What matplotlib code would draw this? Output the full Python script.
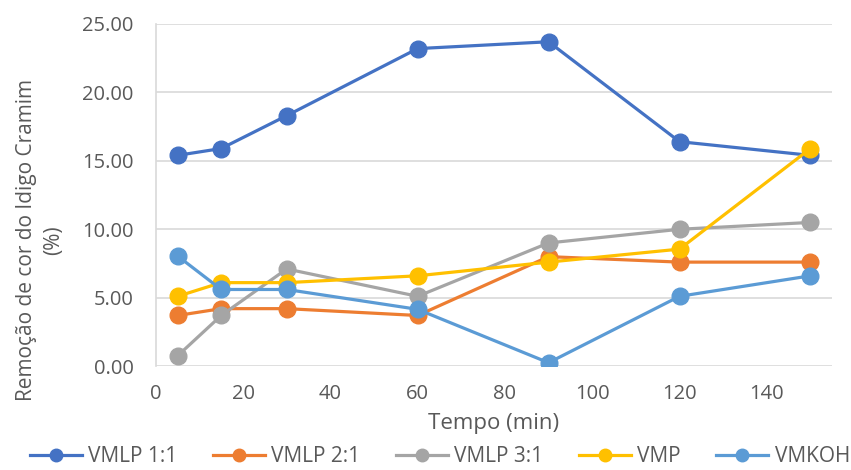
import matplotlib
matplotlib.use("Agg")
import matplotlib.pyplot as plt

# Tempo de contato (min) e remoção de cor (%) por material
tempo = [5, 15, 30, 60, 90, 120, 150]
vmlp_11 = [15.4, 15.9, 18.3, 23.2, 23.7, 16.4, 15.4]
vmlp_21 = [3.7, 4.2, 4.2, 3.7, 8.0, 7.6, 7.6]
vmlp_31 = [0.75, 3.7, 7.1, 5.1, 9.0, 10.0, 10.5]
vmp = [5.1, 6.1, 6.1, 6.6, 7.6, 8.55, 15.9]
vmkoh = [8.05, 5.6, 5.6, 4.15, 0.25, 5.1, 6.6]

series = [
    ("VMLP 1:1", vmlp_11, "#4472C4"),
    ("VMLP 2:1", vmlp_21, "#ED7D31"),
    ("VMLP 3:1", vmlp_31, "#A5A5A5"),
    ("VMP", vmp, "#FFC000"),
    ("VMKOH", vmkoh, "#5B9BD5"),
]

plt.rcParams["font.family"] = ["Open Sans", "DejaVu Sans"]
txt = "#595959"

fig = plt.figure(figsize=(8.51, 4.70), dpi=100)
ax = fig.add_axes([0.183, 0.221, 0.795, 0.728])

for name, vals, cor in series:
    ax.plot(tempo, vals, color=cor, lw=2.3, marker="o", ms=12,
            label=name, zorder=3)

ax.set_xlim(0, 155)
ax.set_ylim(0, 25)
ax.set_xticks(range(0, 141, 20))
ax.set_yticks([0, 5, 10, 15, 20, 25])
ax.set_yticklabels([f"{v:.2f}" for v in ax.get_yticks()])
ax.tick_params(length=0, labelsize=14.5, colors=txt)
ax.tick_params(axis="x", pad=13)
ax.tick_params(axis="y", pad=16)
ax.grid(axis="y", color="#D9D9D9", lw=1.2, zorder=0)
for s in ["top", "right", "bottom"]:
    ax.spines[s].set_visible(False)
ax.spines["left"].set_color("#D9D9D9")
ax.spines["left"].set_linewidth(1.2)

ax.set_xlabel("Tempo (min)", fontsize=16, color=txt, labelpad=6)
ax.set_ylabel("Remoção de cor do Idigo Cramim\n(%)", fontsize=15,
              color=txt, linespacing=1.35)
ax.yaxis.set_label_coords(-0.136, 0.368)

fig.legend(loc="center", ncol=5, bbox_to_anchor=(0.517, 0.028),
           frameon=False, fontsize=15, handlelength=2.5, columnspacing=1.7,
           handletextpad=0.3, markerscale=0.75, labelcolor=txt,
           borderpad=0.2)

fig.savefig("out.png", dpi=100)
